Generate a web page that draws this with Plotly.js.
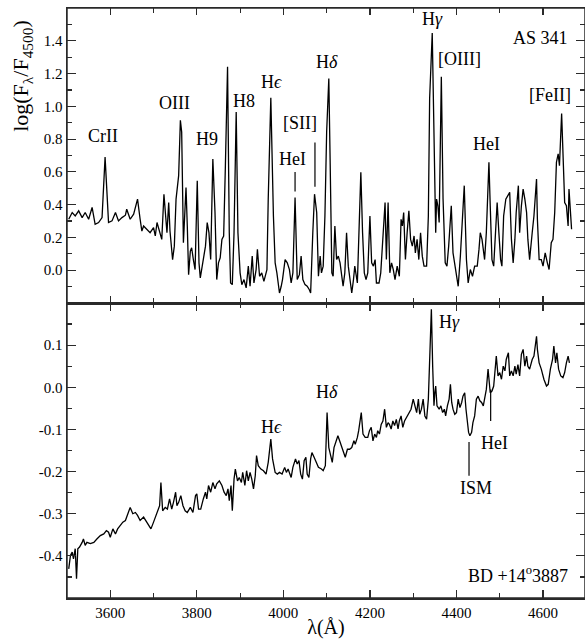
<!DOCTYPE html>
<html><head><meta charset="utf-8">
<script src="https://cdn.plot.ly/plotly-3.0.1.min.js"></script>
<style>body{margin:0;background:#fff}</style>
</head><body><div id="chart" style="width:585px;height:639px"></div>
<script>
// AS 341 (top panel)
const asWave = [3504,3512,3519,3527,3535,3542,3550,3558,3565,3573,3581,3588,3596,3604,3612,3619,3627,3635,3638,3646,3654,3663,3669,3673,3677,3685,3692,3700,3704,3708,3714,3719,3724,3727,3731,3735,3738,3744,3748,3752,3755,3758,3762,3765,3769,3773,3775,3778,3781,3785,3788,3792,3796,3801,3805,3808,3812,3816,3820,3824,3828,3832,3837,3842,3846,3850,3854,3858,3862,3866,3871,3875,3878,3882,3886,3891,3895,3900,3904,3909,3914,3919,3923,3928,3932,3937,3940,3945,3950,3955,3962,3965,3971,3977,3981,3985,3991,3995,3998,4004,4009,4014,4018,4022,4027,4032,4037,4041,4045,4050,4055,4060,4063,4068,4072,4077,4081,4085,4088,4092,4096,4100,4105,4108,4112,4115,4119,4123,4127,4131,4135,4138,4142,4146,4150,4154,4158,4162,4165,4171,4175,4179,4183,4187,4191,4195,4200,4204,4208,4212,4215,4221,4225,4231,4235,4238,4242,4246,4250,4254,4258,4263,4268,4272,4275,4278,4282,4286,4290,4294,4298,4302,4305,4309,4313,4317,4321,4325,4331,4335,4338,4344,4348,4352,4354,4357,4360,4365,4369,4374,4378,4382,4388,4392,4398,4404,4409,4414,4418,4423,4427,4432,4437,4442,4448,4452,4455,4459,4462,4465,4469,4475,4478,4482,4486,4490,4494,4498,4502,4505,4509,4514,4519,4523,4527,4531,4535,4538,4543,4546,4550,4554,4558,4562,4565,4569,4575,4579,4585,4587,4591,4596,4600,4605,4610,4614,4619,4623,4627,4631,4635,4638,4643,4646,4650,4654,4658,4660,4663,4666];
const asFlux = [0.311,0.352,0.331,0.362,0.321,0.352,0.311,0.383,0.280,0.291,0.321,0.690,0.291,0.301,0.352,0.301,0.321,0.336,0.372,0.311,0.342,0.434,0.311,0.239,0.270,0.250,0.229,0.260,0.209,0.291,0.229,0.188,0.464,0.372,0.229,0.413,0.239,0.065,0.147,0.434,0.495,0.577,0.915,0.843,0.168,0.475,0.505,0.270,-0.027,0.117,0.137,0.065,0.004,0.546,0.045,-0.047,0.025,0.106,0.147,0.291,0.229,0.065,0.679,0.352,-0.057,0.045,0.076,0.188,0.209,0.638,1.242,0.229,-0.078,-0.088,0.229,0.966,0.229,-0.016,-0.088,-0.057,-0.108,0.025,-0.098,0.086,-0.078,0.004,0.127,-0.037,-0.016,-0.068,0.004,0.434,1.052,0.331,0.045,-0.016,-0.139,-0.098,-0.057,0.065,0.045,0.004,-0.078,-0.016,0.444,-0.057,-0.027,0.086,-0.057,-0.088,-0.098,-0.119,-0.139,0.229,0.464,0.352,-0.037,0.086,-0.016,0.025,0.331,0.843,1.170,0.679,-0.016,-0.037,0.270,0.065,0.086,0.045,-0.057,-0.098,-0.016,0.229,0.025,-0.078,-0.139,-0.057,0.025,-0.078,0.229,0.597,0.229,-0.016,-0.057,-0.016,0.331,0.045,0.025,0.065,-0.078,-0.078,-0.016,0.229,0.413,0.065,0.413,-0.016,0.045,0.004,-0.057,0.025,-0.037,0.311,0.270,0.352,0.065,0.229,0.362,0.188,0.147,0.209,0.106,0.188,0.065,0.229,0.086,0.025,0.025,0.331,1.048,1.447,0.843,0.229,0.434,0.393,0.291,1.181,0.434,0.045,0.025,0.147,0.393,0.106,0.004,-0.098,0.086,0.352,0.516,0.065,-0.078,0.004,-0.037,0.025,0.025,0.127,0.229,0.188,0.106,0.065,0.229,0.659,0.393,0.065,0.025,0.229,0.413,0.229,0.065,0.025,0.331,0.434,0.454,0.475,0.188,0.045,0.188,0.352,0.516,0.229,0.393,0.495,0.434,0.352,0.188,0.065,0.229,0.331,0.557,0.311,0.065,0.065,0.025,0.106,0.045,0.004,0.168,0.188,0.352,0.659,0.710,0.638,0.956,0.700,0.413,0.393,0.270,0.495,0.331,0.250];

// BD +14 3887 (bottom panel)
const bdWave = [3504,3508,3512,3515,3519,3522,3525,3529,3535,3538,3542,3546,3554,3562,3569,3577,3585,3591,3596,3600,3606,3612,3617,3623,3629,3635,3642,3646,3652,3658,3663,3669,3677,3685,3694,3700,3708,3714,3717,3721,3727,3732,3737,3742,3746,3751,3754,3758,3763,3768,3773,3778,3785,3791,3797,3800,3804,3809,3815,3820,3823,3827,3832,3837,3842,3846,3852,3858,3863,3868,3872,3875,3879,3882,3886,3889,3894,3898,3903,3906,3911,3915,3919,3923,3927,3931,3935,3938,3942,3948,3954,3960,3965,3971,3975,3981,3986,3991,3997,4003,4007,4011,4015,4018,4022,4028,4032,4036,4040,4044,4048,4052,4055,4059,4063,4066,4071,4076,4081,4088,4092,4097,4101,4105,4109,4113,4117,4122,4126,4130,4134,4138,4143,4148,4153,4158,4163,4166,4171,4174,4178,4180,4184,4189,4195,4199,4203,4207,4211,4215,4218,4222,4226,4230,4234,4238,4242,4245,4249,4253,4257,4261,4265,4268,4272,4276,4280,4284,4288,4291,4295,4300,4304,4308,4312,4315,4319,4323,4327,4331,4335,4339,4342,4345,4348,4350,4352,4355,4360,4364,4368,4372,4375,4379,4383,4386,4389,4392,4396,4400,4404,4408,4412,4415,4419,4422,4425,4428,4431,4435,4438,4442,4446,4450,4454,4458,4462,4465,4469,4473,4475,4478,4482,4486,4490,4492,4496,4500,4504,4508,4512,4515,4520,4523,4527,4531,4535,4538,4542,4546,4550,4554,4558,4562,4565,4569,4575,4579,4585,4587,4591,4596,4602,4608,4612,4617,4622,4625,4629,4632,4636,4641,4646,4650,4654,4658,4661];
const bdFlux = [-0.431,-0.399,-0.391,-0.407,-0.383,-0.454,-0.383,-0.379,-0.368,-0.360,-0.375,-0.368,-0.371,-0.368,-0.360,-0.352,-0.348,-0.340,-0.344,-0.356,-0.336,-0.348,-0.336,-0.328,-0.320,-0.316,-0.297,-0.285,-0.300,-0.297,-0.304,-0.316,-0.308,-0.320,-0.336,-0.320,-0.297,-0.281,-0.226,-0.293,-0.285,-0.289,-0.265,-0.289,-0.273,-0.249,-0.281,-0.273,-0.257,-0.281,-0.293,-0.297,-0.285,-0.297,-0.257,-0.253,-0.289,-0.289,-0.265,-0.249,-0.265,-0.233,-0.249,-0.226,-0.241,-0.229,-0.222,-0.233,-0.249,-0.257,-0.241,-0.269,-0.233,-0.293,-0.218,-0.194,-0.222,-0.214,-0.226,-0.202,-0.233,-0.198,-0.222,-0.202,-0.218,-0.241,-0.210,-0.162,-0.186,-0.194,-0.198,-0.206,-0.178,-0.123,-0.170,-0.202,-0.206,-0.202,-0.206,-0.190,-0.202,-0.194,-0.206,-0.214,-0.190,-0.170,-0.182,-0.174,-0.206,-0.218,-0.174,-0.166,-0.206,-0.214,-0.170,-0.155,-0.166,-0.178,-0.190,-0.194,-0.198,-0.186,-0.060,-0.143,-0.159,-0.178,-0.143,-0.127,-0.115,-0.127,-0.139,-0.151,-0.166,-0.147,-0.147,-0.143,-0.127,-0.135,-0.119,-0.103,-0.064,-0.060,-0.111,-0.119,-0.119,-0.103,-0.095,-0.127,-0.111,-0.119,-0.103,-0.111,-0.088,-0.080,-0.052,-0.095,-0.084,-0.088,-0.099,-0.080,-0.091,-0.076,-0.099,-0.080,-0.068,-0.095,-0.080,-0.072,-0.064,-0.060,-0.052,-0.028,-0.044,-0.060,-0.028,-0.064,-0.052,-0.028,-0.068,-0.076,-0.028,0.090,0.185,0.050,-0.044,-0.013,0.003,-0.044,-0.052,-0.044,-0.060,-0.052,-0.068,-0.044,-0.028,0.007,-0.036,-0.052,-0.064,-0.060,-0.028,-0.048,-0.036,-0.021,-0.013,-0.052,-0.084,-0.107,-0.115,-0.107,-0.084,-0.068,-0.028,-0.021,-0.032,-0.036,-0.044,-0.028,-0.005,0.043,0.019,-0.013,-0.009,0.003,0.050,0.074,0.027,0.035,0.019,0.050,0.039,0.066,0.082,0.027,0.039,0.027,0.050,0.031,0.054,0.027,0.078,0.090,0.050,0.074,0.050,0.043,0.066,0.074,0.121,0.090,0.058,0.043,0.019,0.003,0.007,0.043,0.066,0.098,0.058,0.082,0.043,0.027,0.023,0.035,0.058,0.074,0.058];

const topTickVals = [0, 0.2, 0.4, 0.6, 0.8, 1.0, 1.2, 1.4];
const topTickText = ['0.0', '0.2', '0.4', '0.6', '0.8', '1.0', '1.2', '1.4'];
const botTickVals = [-0.4, -0.3, -0.2, -0.1, 0.0, 0.1];
const botTickText = ['-0.4', '-0.3', '-0.2', '-0.1', '0.0', '0.1'];
const xTickVals = [3600, 3800, 4000, 4200, 4400, 4600];

// line labels: [text, wavelength, value]
const topLabels = [
  ['CrII', 3584, 0.82], ['OIII', 3748, 1.02], ['H9', 3824, 0.80], ['H8', 3910, 1.03],
  ['H<i>ϵ</i>', 3972, 1.15], ['[SII]', 4039, 0.90], ['HeI', 4020, 0.68], ['H<i>δ</i>', 4100, 1.27],
  ['H<i>γ</i>', 4344, 1.53], ['[OIII]', 4406, 1.29], ['HeI', 4470, 0.77], ['[FeII]', 4615, 1.07]
];
const botLabels = [
  ['H<i>ϵ</i>', 3972, -0.095], ['H<i>δ</i>', 4100, -0.012], ['H<i>γ</i>', 4385, 0.156],
  ['HeI', 4489, -0.133], ['ISM', 4444, -0.24]
];
// marker ticks: [wavelength, v0, v1]
const topMarks = [[4027, 0.48, 0.60], [4073, 0.51, 0.78]];
const botMarks = [[4479, -0.08, -0.005], [4429, -0.21, -0.13]];

const FONT = '"Liberation Serif", "Times New Roman", serif';
const lineCol = '#2a2a2a';

const traces = [
  {x: asWave, y: asFlux, xaxis: 'x2', yaxis: 'y2', mode: 'lines', line: {color: '#000', width: 1.3}, hoverinfo: 'skip'},
  {x: bdWave, y: bdFlux, xaxis: 'x', yaxis: 'y', mode: 'lines', line: {color: '#000', width: 1.3}, hoverinfo: 'skip'}
];

const annotations = [];
topLabels.forEach(l => annotations.push({text: l[0], x: l[1], y: l[2], xref: 'x2', yref: 'y2', showarrow: false, font: {family: FONT, size: 18, color: '#000'}}));
botLabels.forEach(l => annotations.push({text: l[0], x: l[1], y: l[2], xref: 'x', yref: 'y', showarrow: false, font: {family: FONT, size: 18, color: '#000'}}));
annotations.push({text: 'AS 341', x: 4662, y: 1.415, xref: 'x2', yref: 'y2', xanchor: 'right', showarrow: false, font: {family: FONT, size: 18, color: '#000'}});
annotations.push({text: 'BD +14<sup>o</sup>3887', x: 4662, y: -0.445, xref: 'x', yref: 'y', xanchor: 'right', showarrow: false, font: {family: FONT, size: 18, color: '#000'}});
annotations.push({text: 'log(F<sub>λ</sub>/F<sub>4500</sub>)', x: 0, y: 0.885, xref: 'paper', yref: 'paper', xshift: -45, xanchor: 'center', yanchor: 'middle', textangle: -90, showarrow: false, font: {family: FONT, size: 22, color: '#000'}});

const shapes = [
  {type: 'rect', xref: 'paper', yref: 'paper', x0: 0, x1: 1, y0: 0.5, y1: 1, line: {color: lineCol, width: 1.5}, layer: 'above'},
  {type: 'rect', xref: 'paper', yref: 'paper', x0: 0, x1: 1, y0: 0, y1: 0.5, line: {color: lineCol, width: 1.5}, layer: 'above'}
];
topMarks.forEach(m => shapes.push({type: 'line', xref: 'x2', yref: 'y2', x0: m[0], x1: m[0], y0: m[1], y1: m[2], line: {color: '#000', width: 1.2}}));
botMarks.forEach(m => shapes.push({type: 'line', xref: 'x', yref: 'y', x0: m[0], x1: m[0], y0: m[1], y1: m[2], line: {color: '#000', width: 1.2}}));

const axBase = {showline: true, linecolor: lineCol, linewidth: 1.5, mirror: 'allticks', ticks: 'inside', tickcolor: lineCol, tickwidth: 1.2, showgrid: false, zeroline: false, tickfont: {family: FONT, size: 15, color: '#000'}};

const layout = {
  width: 585, height: 639,
  font: {family: FONT, color: '#000'},
  margin: {l: 67, r: 0, t: 8, b: 41},
  paper_bgcolor: '#fff', plot_bgcolor: 'rgba(0,0,0,0)',
  showlegend: false,
  xaxis: Object.assign({}, axBase, {domain: [0, 1], anchor: 'y', range: [3500, 4697], tickmode: 'array', tickvals: xTickVals, ticklen: 8,
    minor: {tickmode: 'linear', tick0: 3500, dtick: 100, ticklen: 5, ticks: 'inside', tickcolor: lineCol},
    title: {text: 'λ(Å)', font: {family: FONT, size: 20, color: '#000'}, standoff: 2}}),
  xaxis2: Object.assign({}, axBase, {domain: [0, 1], anchor: 'y2', matches: 'x', range: [3500, 4697], showticklabels: false, tickmode: 'array', tickvals: xTickVals, ticklen: 7,
    minor: {tickmode: 'linear', tick0: 3500, dtick: 100, ticklen: 5, ticks: 'inside', tickcolor: lineCol}}),
  yaxis: Object.assign({}, axBase, {domain: [0, 0.5], anchor: 'x', range: [-0.5, 0.2], tickmode: 'array', tickvals: botTickVals, ticktext: botTickText, ticklen: 9,
    minor: {tickmode: 'linear', tick0: 0, dtick: 0.05, ticklen: 5, ticks: 'inside', tickcolor: lineCol}}),
  yaxis2: Object.assign({}, axBase, {domain: [0.5, 1], anchor: 'x2', range: [-0.2, 1.6], tickmode: 'array', tickvals: topTickVals, ticktext: topTickText, ticklen: 9,
    minor: {tickmode: 'linear', tick0: 0, dtick: 0.1, ticklen: 5, ticks: 'inside', tickcolor: lineCol}}),
  annotations: annotations,
  shapes: shapes
};

Plotly.newPlot('chart', traces, layout, {displayModeBar: false, staticPlot: true});
</script></body></html>
